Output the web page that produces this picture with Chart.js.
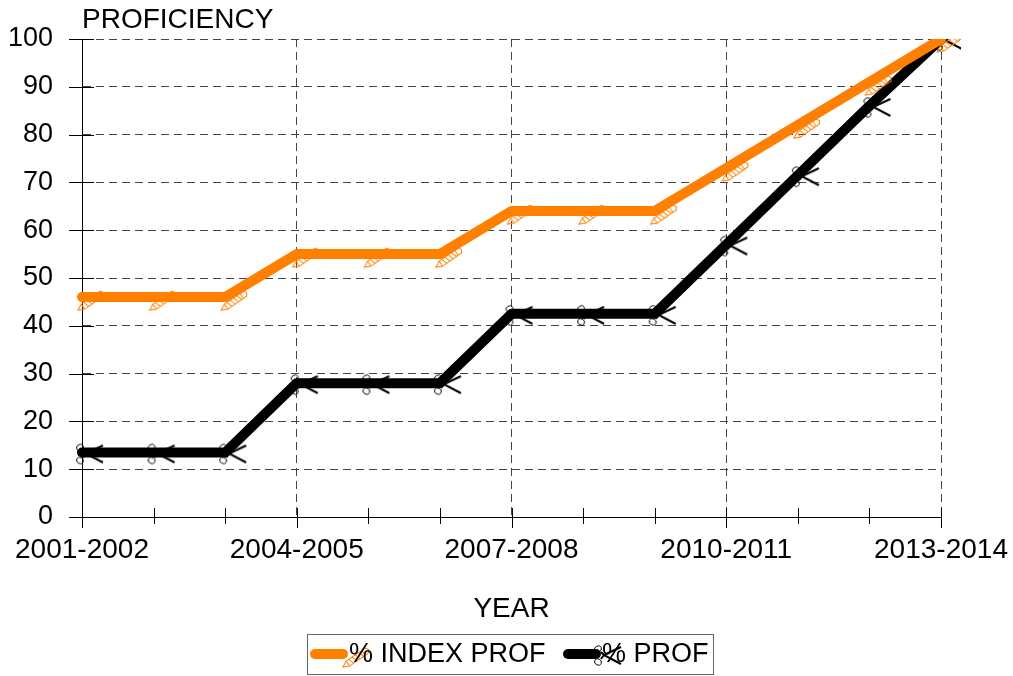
<!DOCTYPE html>
<html>
<head>
<meta charset="utf-8">
<script src="https://cdn.jsdelivr.net/npm/chart.js@4"></script>
<style>
  html, body { margin: 0; padding: 0; background: #fff; }
  #wrap { width: 1013px; height: 676px; }
</style>
</head>
<body>
<div id="wrap"><canvas id="myChart" width="1013" height="676"></canvas></div>
<script>
var years = [
  "2001-2002", "2002-2003", "2003-2004", "2004-2005", "2005-2006",
  "2006-2007", "2007-2008", "2008-2009", "2009-2010", "2010-2011",
  "2011-2012", "2012-2013", "2013-2014"
];
var indexProf = [46, 46, 46, 55, 55, 55, 64, 64, 64, 73, 82, 91, 100];
var prof = [13.5, 13.5, 13.5, 28, 28, 28, 42.5, 42.5, 42.5, 57, 71.5, 86, 100];
var yTicks = [0, 10, 20, 30, 40, 50, 60, 70, 80, 90, 100];

var ORANGE = "#ff8000";
var FONT = "Liberation Sans, Arial, sans-serif";

// pencil marker, point is canvas centre
function makePencil() {
  var c = document.createElement("canvas");
  c.width = 60; c.height = 40;
  var g = c.getContext("2d");
  g.translate(26, 33);
  g.rotate(Math.atan2(-18, 26));
  g.strokeStyle = ORANGE;
  g.lineWidth = 1;
  g.beginPath();
  g.moveTo(0, 0);
  g.lineTo(6, -3);
  g.lineTo(29, -3);
  g.lineTo(31, 0);
  g.lineTo(29, 3);
  g.lineTo(6, 3);
  g.closePath();
  g.stroke();
  g.beginPath();
  g.moveTo(6, -3); g.lineTo(6, 3);
  g.moveTo(25, -3); g.lineTo(25, 3);
  for (var i = 9; i < 25; i += 4) { g.moveTo(i, -3); g.lineTo(i + 2, 3); }
  g.stroke();
  return c;
}

// scissors marker
function makeScissors() {
  var c = document.createElement("canvas");
  c.width = 60; c.height = 40;
  var g = c.getContext("2d");
  g.translate(30, 20);
  g.strokeStyle = "#000";
  g.lineWidth = 1;
  g.beginPath();
  g.ellipse(-2, -5, 3.5, 3, -0.4, 0, Math.PI * 2);
  g.stroke();
  g.beginPath();
  g.ellipse(-2, 8, 3.5, 3, 0.4, 0, Math.PI * 2);
  g.stroke();
  g.lineWidth = 2;
  g.beginPath();
  g.moveTo(1, -2); g.lineTo(4, 1); g.lineTo(21, -7);
  g.moveTo(1, 5); g.lineTo(4, 1); g.lineTo(21, 10);
  g.stroke();
  return c;
}

var pencil = makePencil();
var scissors = makeScissors();

// ticks that cross the axes, title text, boxed legend
var decorations = {
  id: "decorations",
  afterDraw: function (chart) {
    var ctx = chart.ctx;
    var area = chart.chartArea;
    var xs = chart.scales.x, ys = chart.scales.y;
    ctx.save();
    ctx.strokeStyle = "#000";
    ctx.lineWidth = 1;
    ctx.beginPath();
    ys.ticks.forEach(function (t, i) {
      var y = Math.round(ys.getPixelForTick(i)) + 0.5;
      ctx.moveTo(area.left - 13, y);
      ctx.lineTo(area.left + 12, y);
    });
    xs.ticks.forEach(function (t, i) {
      var x = Math.round(xs.getPixelForTick(i)) + 0.5;
      ctx.moveTo(x, area.bottom - 9);
      ctx.lineTo(x, area.bottom + (i % 3 === 0 ? 11 : 7));
    });
    ctx.stroke();

    ctx.fillStyle = "#000";
    ctx.font = "28px " + FONT;
    ctx.textBaseline = "alphabetic";
    ctx.textAlign = "left";
    ctx.fillText("PROFICIENCY", area.left, 28);

    // legend
    var top = 634, h = 40, left = 307, right = 713;
    ctx.lineWidth = 1;
    ctx.strokeStyle = "#666";
    ctx.strokeRect(left + 0.5, top + 0.5, right - left, h);
    var cy = top + h / 2;
    var starts = [left + 8, 568];
    ctx.font = "27px " + FONT;
    chart.data.datasets.forEach(function (ds, i) {
      var x = starts[i];
      ctx.strokeStyle = ds.borderColor;
      ctx.lineWidth = 10;
      ctx.lineCap = "round";
      ctx.beginPath();
      ctx.moveTo(x, cy);
      ctx.lineTo(x + 28, cy);
      ctx.stroke();
      var img = ds.pointStyle;
      ctx.drawImage(img, x + 32 - img.width / 2, cy - img.height / 2);
      ctx.fillStyle = "#000";
      ctx.textBaseline = "middle";
      ctx.fillText(ds.label, x + 34, cy + 1);
    });
    ctx.restore();
  }
};

var ctx = document.getElementById("myChart").getContext("2d");
var myChart = new Chart(ctx, {
  type: "line",
  data: {
    labels: years,
    datasets: [
      {
        label: "% INDEX PROF",
        data: indexProf,
        borderColor: ORANGE,
        borderWidth: 10,
        borderCapStyle: "round",
        borderJoinStyle: "round",
        pointStyle: pencil,
        pointRadius: 10,
        tension: 0
      },
      {
        label: "% PROF",
        data: prof,
        borderColor: "#000",
        borderWidth: 10,
        borderCapStyle: "round",
        borderJoinStyle: "round",
        pointStyle: scissors,
        pointRadius: 10,
        tension: 0
      }
    ]
  },
  options: {
    responsive: false,
    animation: false,
    layout: { padding: { left: 8, right: 72, top: 39, bottom: 46 } },
    plugins: {
      legend: { display: false },
      tooltip: { enabled: false }
    },
    scales: {
      x: {
        offset: false,
        border: { display: true, color: "#000", width: 1, dash: [8, 5] },
        grid: {
          drawTicks: false,
          color: function (c) { return c.index % 3 === 0 ? "#444" : "rgba(0,0,0,0)"; },
          lineWidth: 1
        },
        ticks: {
          autoSkip: false,
          maxRotation: 0,
          padding: 16,
          color: "#000",
          font: { family: FONT, size: 28 },
          callback: function (v, i) { return i % 3 === 0 ? years[i] : ""; }
        },
        title: {
          display: true,
          text: "YEAR",
          color: "#000",
          font: { family: FONT, size: 28 },
          padding: { top: 20, bottom: 4 }
        },
        afterFit: function (s) {
          s.height = 113;
          s.paddingLeft = 0;
          s.paddingRight = 0;
        }
      },
      y: {
        min: 0,
        max: 100,
        afterBuildTicks: function (s) { s.ticks = yTicks.map(function (v) { return { value: v }; }); },
        border: { color: "#000", dash: [8, 5] },
        grid: { drawTicks: false, color: "#444", lineWidth: 1 },
        ticks: {
          padding: 29,
          color: "#000",
          font: { family: FONT, size: 27 }
        },
        afterFit: function (s) {
          s.width = 74;
          s.paddingTop = 0;
          s.paddingBottom = 0;
        }
      }
    }
  },
  plugins: [decorations]
});
</script>
</body>
</html>
